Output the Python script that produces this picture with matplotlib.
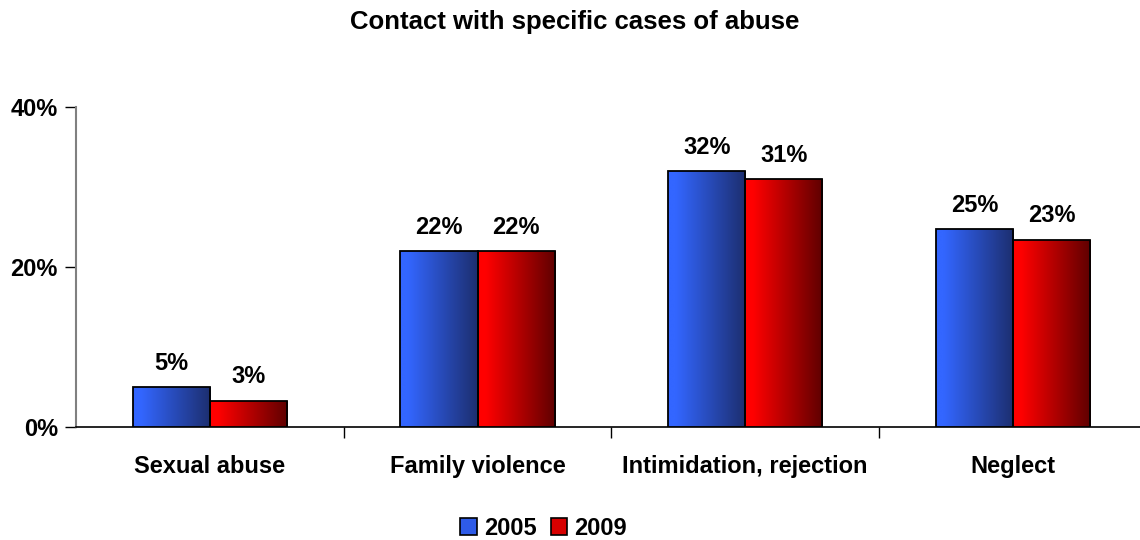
import numpy as np
import matplotlib
matplotlib.use("Agg")
import matplotlib.pyplot as plt
from matplotlib.patches import Patch
from matplotlib.colors import to_rgb

categories = ["Sexual abuse", "Family violence", "Intimidation, rejection", "Neglect"]
series_names = ["2005", "2009"]
values_2005 = [5.0, 22.0, 32.0, 24.7]
values_2009 = [3.3, 22.0, 31.0, 23.4]
y_ticks = [0, 20, 40]
title = "Contact with specific cases of abuse"

plt.rcParams['font.family'] = ['Liberation Sans', 'DejaVu Sans']
plt.rcParams['font.weight'] = 'bold'

fig = plt.figure(figsize=(11.4, 5.4), dpi=100)
ax = fig.add_axes([76/1140, 1-427/540, 1-76/1140, (427-107)/540])

bar_w = 0.288
x = np.arange(len(categories))
grads = [(to_rgb("#3366FF"), to_rgb("#1C2E6E")), (to_rgb("#FF0000"), to_rgb("#5E0000"))]
legend_cols = ["#2E5BE8", "#D80000"]

def gradient_img(c0, c1, n=256):
    t = np.linspace(0, 1, n)
    t = np.clip((t - 0.1) / 0.9, 0, 1)
    c0 = np.array(c0); c1 = np.array(c1)
    row = c0[None, :] * (1 - t[:, None]) + c1[None, :] * t[:, None]
    return row[None, :, :]

for i, vals in enumerate([values_2005, values_2009]):
    offs = (i - 0.5) * bar_w
    bars = ax.bar(x + offs, vals, width=bar_w, facecolor='none', edgecolor='black',
                  linewidth=1.3, zorder=4)
    img = gradient_img(*grads[i])
    for b, v in zip(bars, vals):
        x0 = b.get_x(); w = b.get_width()
        im = ax.imshow(img, extent=[x0, x0 + w, 0, v], aspect='auto', zorder=3,
                       interpolation='bilinear')
        im.set_clip_path(b)
        ax.annotate(f"{v:.0f}%", xy=(x0 + w/2, v), xytext=(0, 9), textcoords='offset points',
                    ha='center', va='bottom', fontsize=17, fontweight='bold')

ax.set_xlim(-0.5, -0.5 + (1140-76)/267.7)
ax.set_ylim(0, 40)
ax.set_yticks(y_ticks)
ax.set_yticklabels([f"{t}%" for t in y_ticks], fontsize=17, fontweight='bold')
ax.set_xticks(x)
ax.set_xticklabels(categories, fontsize=17, fontweight='bold')
ax.tick_params(axis='x', which='major', length=0, pad=20)
ax.set_xticks([0.5, 1.5, 2.5], minor=True)
ax.tick_params(axis='x', which='minor', length=8, direction='out', width=1)
ax.tick_params(axis='y', length=8, direction='out', width=1, pad=5)
for s in ['top', 'right']:
    ax.spines[s].set_visible(False)
ax.spines['left'].set_color('#808080')
ax.spines['left'].set_linewidth(1.5)
ax.spines['bottom'].set_linewidth(1.2)

fig.text(0.504, 0.959, title, ha='center', va='center', fontsize=18.5, fontweight='bold')

handles = [Patch(facecolor=c, edgecolor='black', linewidth=1.2) for c in legend_cols]
fig.legend(handles, series_names, loc='center', bbox_to_anchor=(0.477, 0.022), ncol=2,
           frameon=False, handlelength=0.7, handleheight=0.7,
           handletextpad=0.3, columnspacing=0.6, prop={'weight': 'bold', 'size': 17})

fig.savefig("out.png", dpi=100)
